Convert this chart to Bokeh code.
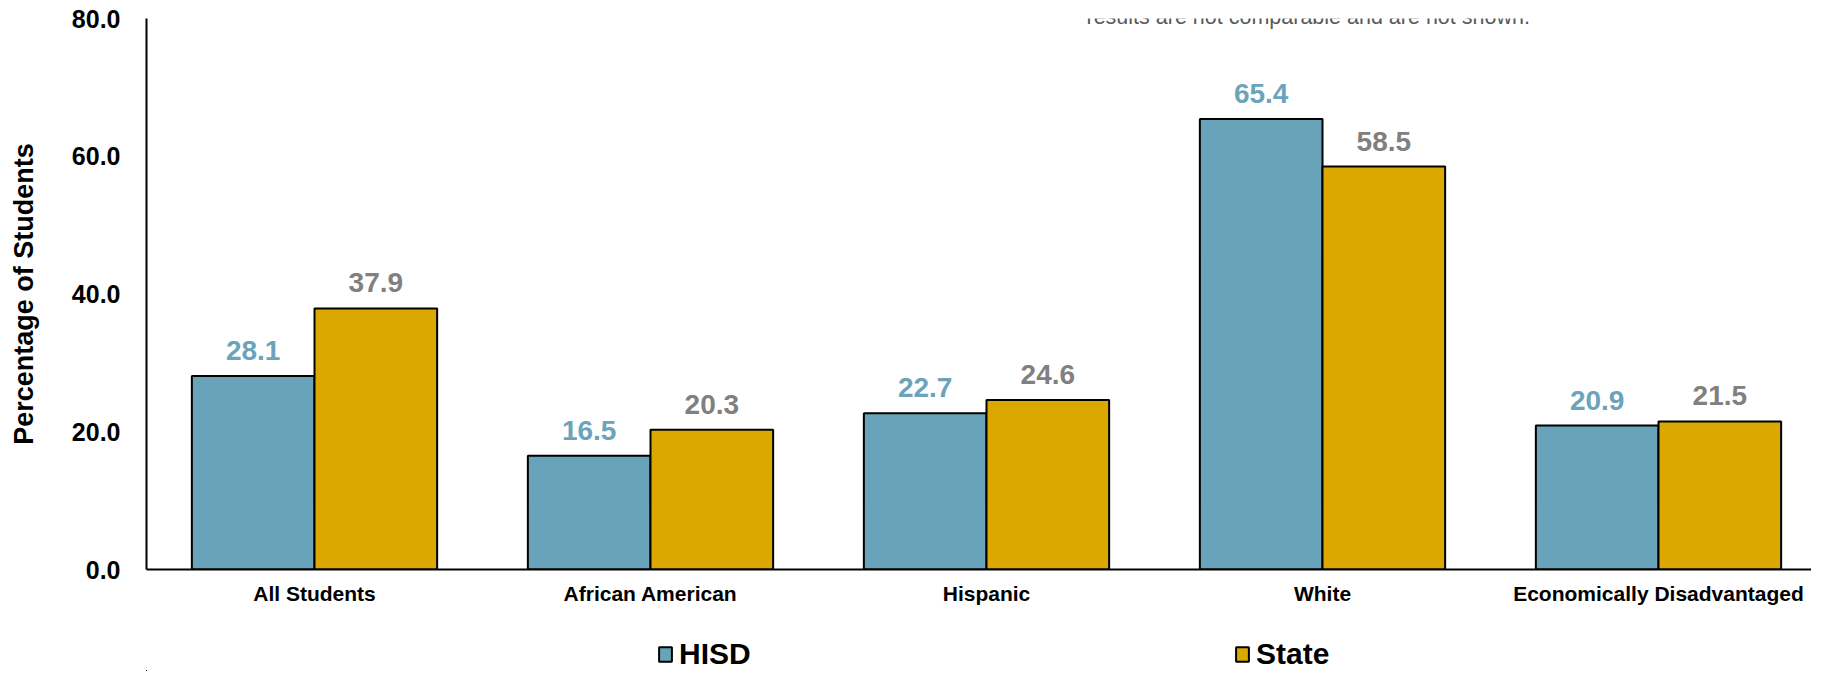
from bokeh.plotting import figure
from bokeh.layouts import column
from bokeh.models import (ColumnDataSource, Range1d, LabelSet, Legend, LegendItem,
                          FixedTicker, Label, PrintfTickFormatter)
from bokeh.core.properties import value
from bokeh.embed import file_html
from bokeh.resources import INLINE

categories = ["All Students", "African American", "Hispanic", "White", "Economically Disadvantaged"]
hisd = [28.1, 16.5, 22.7, 65.4, 20.9]
state = [37.9, 20.3, 24.6, 58.5, 21.5]
series_names = ["HISD", "State"]
y_ticks = [0, 20, 40, 60, 80]
note_text = "results are not comparable and are not shown."

HISD_COLOR = "#68A3B9"
STATE_COLOR = "#DAA800"
FONT = "Liberation Sans"

bw = 0.365
centers = [i + 0.5 for i in range(len(categories))]
source = ColumnDataSource(data=dict(
    xc=centers,
    xh=[c - bw / 2 for c in centers],
    xs=[c + bw / 2 for c in centers],
    hisd=hisd,
    state=state,
    hisd_lbl=["%.1f" % v for v in hisd],
    state_lbl=["%.1f" % v for v in state],
))

W = 1811
H_MAIN = 615
H_LEG = 56
LEFT = 146
SLOT = 336.0
x_end = (W - LEFT) / SLOT

p = figure(x_range=Range1d(0, x_end), y_range=Range1d(0, 80),
           width=W, height=H_MAIN, output_backend="svg", toolbar_location=None,
           min_border_left=LEFT, min_border_right=0, min_border_top=18, min_border_bottom=46)

r1 = p.vbar(x="xh", top="hisd", width=bw, source=source,
            fill_color=HISD_COLOR, line_color="black", line_width=2)
r2 = p.vbar(x="xs", top="state", width=bw, source=source,
            fill_color=STATE_COLOR, line_color="black", line_width=2)

p.add_layout(LabelSet(x="xh", y="hisd", text="hisd_lbl",
                      source=source, text_align="center", text_baseline="alphabetic", y_offset=16,
                      text_font=value(FONT), text_font_size="28px", text_font_style="bold",
                      text_color="#6BA3BB"))
p.add_layout(LabelSet(x="xs", y="state", text="state_lbl",
                      source=source, text_align="center", text_baseline="alphabetic", y_offset=16,
                      text_font=value(FONT), text_font_size="28px", text_font_style="bold",
                      text_color="#808080"))

p.xgrid.visible = False
p.ygrid.visible = False
p.outline_line_color = None

p.yaxis.ticker = FixedTicker(ticks=y_ticks)
p.yaxis.formatter = PrintfTickFormatter(format="%.1f")
p.yaxis.major_tick_line_color = None
p.yaxis.minor_tick_line_color = None
p.yaxis.major_label_standoff = 20
p.yaxis.major_label_text_font = FONT
p.yaxis.major_label_text_font_size = "25px"
p.yaxis.major_label_text_font_style = "bold"
p.yaxis.major_label_text_color = "black"
p.yaxis.axis_line_color = "black"
p.yaxis.axis_line_width = 2
p.yaxis.axis_label = "Percentage of Students"
p.yaxis.axis_label_text_font = FONT
p.yaxis.axis_label_text_font_size = "27px"
p.yaxis.axis_label_text_font_style = "bold"
p.yaxis.axis_label_text_color = "black"
p.yaxis.axis_label_standoff = 30

p.xaxis.ticker = FixedTicker(ticks=centers)
p.xaxis.major_label_overrides = {c: name for c, name in zip(centers, categories)}
p.xaxis.major_tick_line_color = None
p.xaxis.minor_tick_line_color = None
p.xaxis.major_label_standoff = 6
p.xaxis.major_label_text_font = FONT
p.xaxis.major_label_text_font_size = "21px"
p.xaxis.major_label_text_font_style = "bold"
p.xaxis.major_label_text_color = "black"
p.xaxis.axis_line_color = "black"
p.xaxis.axis_line_width = 2

p.add_layout(Label(x=(1087 - 147) / SLOT, y=80, y_offset=14, text=note_text,
                   text_font=FONT, text_font_size="21.5px", text_color="#595959",
                   text_baseline="top"))

# legend strip below the chart (its helper renderers sit outside the visible ranges)
p2 = figure(x_range=Range1d(1000, 1001), y_range=Range1d(1000, 1001), width=W, height=H_LEG,
            output_backend="svg", toolbar_location=None, x_axis_location=None,
            y_axis_location=None, min_border=0)
p2.xgrid.visible = False
p2.ygrid.visible = False
p2.outline_line_color = None
l1 = p2.vbar(x="xh", top="hisd", width=bw, source=source,
             fill_color=HISD_COLOR, line_color="black", line_width=2)
l2 = p2.vbar(x="xs", top="state", width=bw, source=source,
             fill_color=STATE_COLOR, line_color="black", line_width=2)
legend = Legend(items=[LegendItem(label=series_names[0], renderers=[l1]),
                       LegendItem(label=series_names[1], renderers=[l2])],
                orientation="horizontal", location=(511, 0), spacing=0,
                glyph_width=16, glyph_height=18, label_standoff=6, label_width=555,
                padding=0, margin=0,
                border_line_alpha=0, background_fill_alpha=0,
                label_text_font=FONT, label_text_font_size="30px", label_text_font_style="bold",
                label_text_color="black")
p2.add_layout(legend, "center")

layout = column(p, p2, spacing=0)
open("out.html", "w").write(file_html(layout, INLINE))
